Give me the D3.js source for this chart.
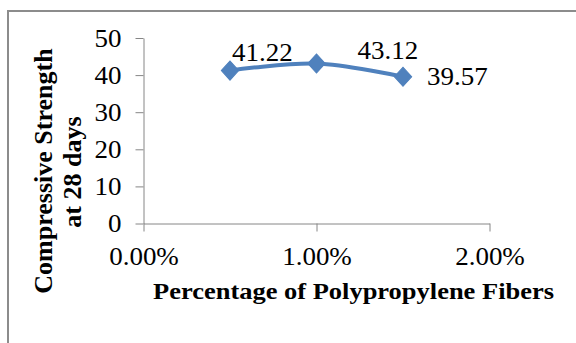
<!DOCTYPE html>
<html>
<head>
<meta charset="utf-8">
<script src="https://cdn.jsdelivr.net/npm/d3@7"></script>
<style>
  html, body { margin: 0; padding: 0; background: #fff; }
  svg { display: block; }
  text { font-family: "Liberation Serif", "Times New Roman", serif; fill: #000; }
</style>
</head>
<body>
<svg id="chart" width="576" height="343"></svg>
<script>
// ---- data ----
const fiberPct = [0.005, 0.010, 0.015];
const strength = [41.22, 43.12, 39.57];
const yTicks = [0, 10, 20, 30, 40, 50];
const xTicks = [0, 0.01, 0.02];
const xTitle = "Percentage of Polypropylene Fibers";
const yTitleLines = ["Compressive Strength", "at 28 days"];
// label offsets (style, relative to each point)
const labelOffsets = [[2, -10], [41, -5], [24, 8]];

const svg = d3.select("#chart");
const sx = 1.08; // horizontal stretch of text

// frame
svg.append("rect")
  .attr("x", 8).attr("y", 11).attr("width", 640).attr("height", 400)
  .attr("fill", "none").attr("stroke", "#8c8c8c").attr("stroke-width", 2);

const x = d3.scaleLinear().domain([0, 0.02]).range([143.5, 489.5]);
const y = d3.scaleLinear().domain([0, 50]).range([223.5, 38]);

// y axis
const gy = svg.append("g").attr("transform", `translate(${x(0)},0)`)
  .call(d3.axisLeft(y).tickValues(yTicks).tickSize(8).tickSizeOuter(0).tickFormat(d3.format("d")));
gy.select(".domain").attr("stroke", "#868686");
gy.selectAll(".tick line").attr("stroke", "#868686");
gy.selectAll(".tick text")
  .attr("x", 0).attr("dy", null).attr("y", 0)
  .attr("dominant-baseline", "central")
  .attr("text-anchor", "end")
  .attr("font-size", 25).attr("font-family", "Liberation Serif").attr("fill", "#000")
  .attr("transform", `translate(-22,0) scale(${sx},1)`);

// x axis
const gx = svg.append("g").attr("transform", `translate(0,${y(0)})`)
  .call(d3.axisBottom(x).tickValues(xTicks).tickSize(8).tickSizeOuter(0).tickFormat(d3.format(".2%")));
gx.select(".domain").attr("stroke", "#868686");
gx.selectAll(".tick line").attr("stroke", "#868686");
gx.selectAll(".tick text")
  .attr("x", 0).attr("y", 0).attr("dy", null)
  .attr("text-anchor", "middle")
  .attr("font-size", 25).attr("font-family", "Liberation Serif").attr("fill", "#000")
  .attr("transform", `translate(0,41) scale(${sx},1)`);
// extend x axis line to the left to meet y tick
// (the zero tick of y axis already overlaps)

// line
const pts = fiberPct.map((p, i) => [x(p), y(strength[i])]);
const line = d3.line().curve(d3.curveCardinal.tension(0));
svg.append("path")
  .attr("d", line(pts))
  .attr("fill", "none").attr("stroke", "#4f81bd").attr("stroke-width", 4)
  .attr("stroke-linejoin", "round").attr("stroke-linecap", "round");

// diamond markers
svg.selectAll("path.marker").data(pts).join("path")
  .attr("class", "marker")
  .attr("d", d3.symbol(d3.symbolSquare, 150)())
  .attr("transform", d => `translate(${d[0]},${d[1]}) scale(1,1.1) rotate(45)`)
  .attr("fill", "#4f81bd").attr("stroke", "#4f81bd").attr("stroke-width", 1);

// data labels
svg.selectAll("text.dlabel").data(pts).join("text")
  .attr("class", "dlabel")
  .attr("font-size", 25)
  .attr("transform", (d, i) => `translate(${d[0] + labelOffsets[i][0]},${d[1] + labelOffsets[i][1]}) scale(${sx},1)`)
  .text((d, i) => strength[i].toFixed(2));

// x title
svg.append("text")
  .attr("x", 153).attr("y", 299)
  .attr("font-size", 23).attr("font-weight", "bold")
  .attr("textLength", 401).attr("lengthAdjust", "spacingAndGlyphs")
  .text(xTitle);

// y title (two lines, rotated)
const yt = [[52, 171, 252], [81, 172, 110]];
yTitleLines.forEach((t, i) => {
  svg.append("text")
    .attr("transform", `translate(${yt[i][0]},${yt[i][1]}) rotate(-90)`)
    .attr("text-anchor", "middle")
    .attr("font-size", 26).attr("font-weight", "bold")
    .text(t);
});
</script>
</body>
</html>
